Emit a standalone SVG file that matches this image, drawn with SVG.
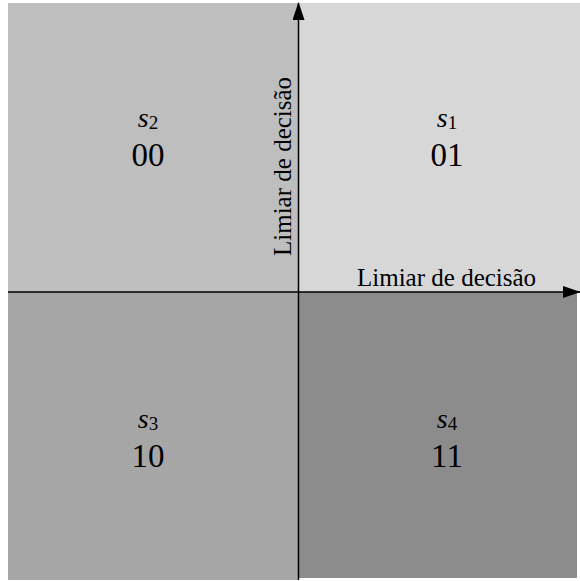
<svg xmlns="http://www.w3.org/2000/svg" width="580" height="581" viewBox="0 0 580 581">
<style>
.lbl{font-family:"Liberation Serif","Times New Roman",serif;font-size:33px;fill:#000;text-anchor:middle}
.sl{font-size:28px}
.sym{font-style:italic}
.sub{font-style:normal;font-size:19px}
.ax{font-family:"Liberation Serif","Times New Roman",serif;font-size:25px;fill:#000}
.line{stroke:#000;stroke-width:1.5;fill:none}
</style>
<defs>
<marker id="arr" markerWidth="18" markerHeight="12" refX="17" refY="6" orient="auto" markerUnits="userSpaceOnUse">
<path d="M0,0 L18,6 L0,12 Z" fill="#000"/>
</marker>
</defs>
<g id="q2"><rect x="8" y="3" width="290" height="289" fill="#bebebe"/></g>
<g id="q1"><rect x="298" y="3" width="282" height="289" fill="#d7d7d7"/></g>
<g id="q3"><rect x="8" y="292" width="290" height="288" fill="#a6a6a6"/></g>
<g id="q4"><rect x="298" y="292" width="279" height="286" fill="#8c8c8c"/></g>
<g id="connectors">
<line class="line" x1="298.5" y1="580" x2="298.5" y2="3" marker-end="url(#arr)"/>
<line class="line" x1="8" y1="292" x2="580" y2="292" marker-end="url(#arr)"/>
</g>
<g id="labels">
<text class="ax" x="357" y="286">Limiar de decisão</text>
<text class="ax" transform="translate(291,256) rotate(-90)">Limiar de decisão</text>
</g>
<g id="s2"><text class="lbl sl" x="148" y="127"><tspan class="sym">s</tspan><tspan class="sub" dy="2">2</tspan></text><text class="lbl" x="148" y="166">00</text></g>
<g id="s1"><text class="lbl sl" x="447" y="127"><tspan class="sym">s</tspan><tspan class="sub" dy="2">1</tspan></text><text class="lbl" x="447" y="166">01</text></g>
<g id="s3"><text class="lbl sl" x="148" y="428"><tspan class="sym">s</tspan><tspan class="sub" dy="2">3</tspan></text><text class="lbl" x="148" y="467">10</text></g>
<g id="s4"><text class="lbl sl" x="447" y="428"><tspan class="sym">s</tspan><tspan class="sub" dy="2">4</tspan></text><text class="lbl" x="447" y="467">11</text></g>
</svg>
